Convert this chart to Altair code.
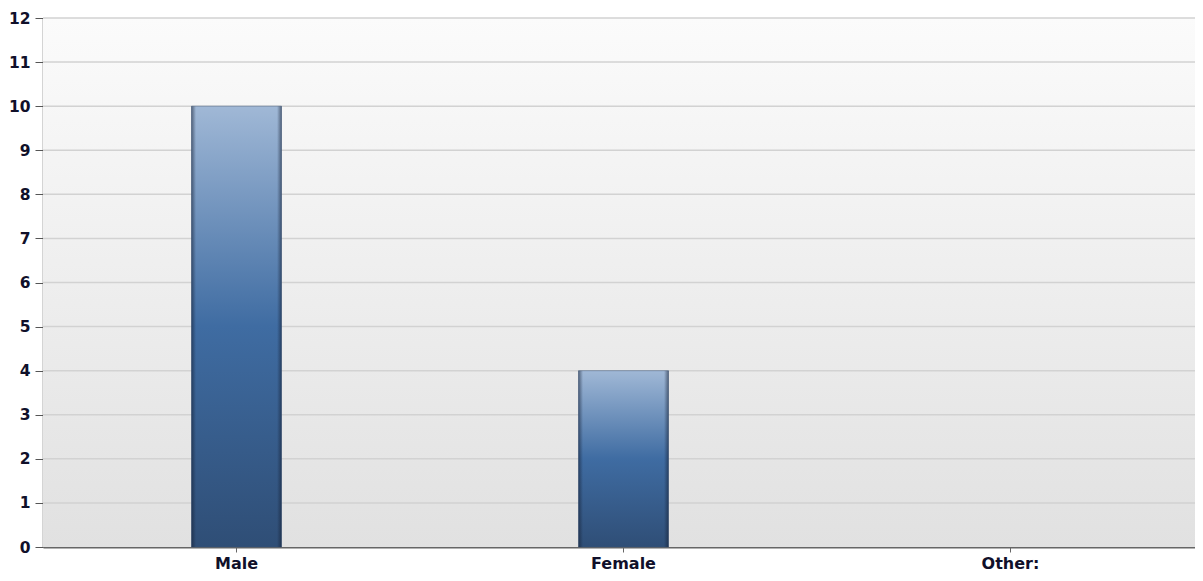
import altair as alt
import pandas as pd

categories = ["Male", "Female", "Other:"]
values = [10, 4, 0]
y_ticks = list(range(0, 13))

df = pd.DataFrame({"category": categories, "value": values})
grid_df = pd.DataFrame({"tick": y_ticks[1:]})

W, H = 1152, 529

bg_gradient = {
    "gradient": "linear", "x1": 0, "y1": 0, "x2": 0, "y2": 1,
    "stops": [{"offset": 0, "color": "#fbfbfb"}, {"offset": 1, "color": "#e1e1e1"}],
}
bar_gradient = {
    "gradient": "linear", "x1": 0, "y1": 0, "x2": 0, "y2": 1,
    "stops": [
        {"offset": 0, "color": "#a0b8d6"},
        {"offset": 0.5, "color": "#3f6ca2"},
        {"offset": 1, "color": "#2f4e76"},
    ],
}
edge_gradient = {
    "gradient": "linear", "x1": 0, "y1": 0, "x2": 1, "y2": 0,
    "stops": [
        {"offset": 0, "color": "rgba(20,30,50,0.55)"},
        {"offset": 0.05, "color": "rgba(20,30,50,0)"},
        {"offset": 0.95, "color": "rgba(20,30,50,0)"},
        {"offset": 1, "color": "rgba(20,30,50,0.55)"},
    ],
}

FONT = "DejaVu Sans"
x_axis = alt.Axis(title=None, labelAngle=0, labelFontWeight="bold",
                  labelFontSize=16, labelColor="#10102a", labelFont=FONT,
                  domainColor="#666666", domainWidth=2, tickColor="#666666",
                  tickSize=5, labelPadding=3, grid=False)
y_axis = alt.Axis(title=None, values=y_ticks, labelFontWeight="bold",
                  labelFontSize=15.5, labelColor="#10102a", labelFont=FONT,
                  domainColor="#555555", domainWidth=1.5, tickColor="#555555",
                  tickSize=8, labelPadding=5, grid=False)
x_scale = alt.Scale(domain=categories, range=[0, 1161], paddingInner=0, paddingOuter=0)
y_scale = alt.Scale(domain=[0, 12], nice=False)

bg = alt.Chart(alt.Data(values=[{}])).mark_rect(fill=bg_gradient).encode(
    x=alt.value(0), x2=alt.value(W), y=alt.value(0), y2=alt.value(H)
)

grid = alt.Chart(grid_df).mark_rule(color="#d2d2d2", strokeWidth=1.5).encode(
    y=alt.Y("tick:Q", scale=y_scale, axis=y_axis)
)

bars = alt.Chart(df).transform_filter("datum.value > 0").mark_bar(
    size=90, fill=bar_gradient, stroke="#3a5578", strokeWidth=0.5
).encode(
    x=alt.X("category:N", sort=categories, scale=x_scale, axis=x_axis),
    y=alt.Y("value:Q", scale=y_scale, axis=y_axis),
)

edges = alt.Chart(df).transform_filter("datum.value > 0").mark_bar(
    size=90, fill=edge_gradient
).encode(
    x=alt.X("category:N", sort=categories, scale=x_scale, axis=x_axis),
    y=alt.Y("value:Q", scale=y_scale, axis=y_axis),
)

chart = alt.layer(bg, grid, bars, edges).properties(
    width=W, height=H,
    autosize=alt.AutoSizeParams(type="none"),
    padding={"left": 35, "top": 10, "right": 0, "bottom": 26},
).configure_view(stroke=None)

chart.save("out.html", embed_options={"renderer": "svg", "actions": False})
